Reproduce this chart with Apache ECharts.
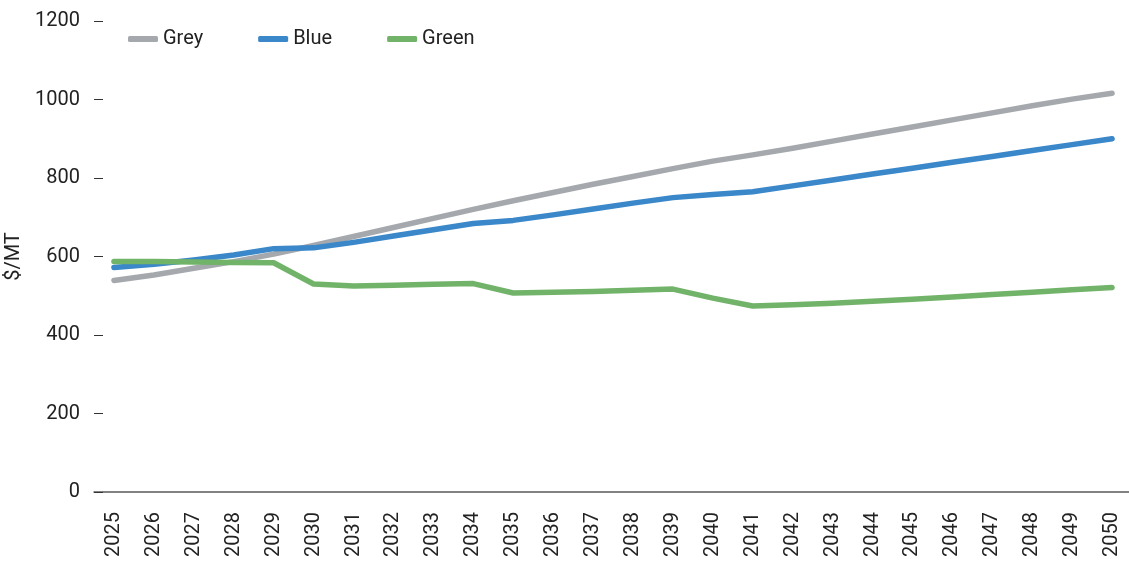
<!DOCTYPE html>
<html>
<head>
<meta charset="utf-8">
<script src="https://cdn.jsdelivr.net/npm/echarts@6/dist/echarts.min.js"></script>
<style>
  html, body { margin: 0; padding: 0; background: #fff; }
  #chart { width: 1129px; height: 564px; }
</style>
</head>
<body>
<div id="chart"></div>
<script>
// Price path by scenario, $/MT, 2025–2050
const years = ['2025','2026','2027','2028','2029','2030','2031','2032','2033','2034','2035','2036','2037',
               '2038','2039','2040','2041','2042','2043','2044','2045','2046','2047','2048','2049','2050'];
const grey  = [539, 553, 570, 587, 606, 628, 651, 674, 697, 720, 742, 763, 784,
               804, 824, 843, 859, 876, 894, 912, 930, 948, 966, 984, 1001, 1016];
const blue  = [572, 580, 591, 604, 620, 622, 636, 652, 668, 684, 692, 706, 721,
               736, 750, 758, 765, 780, 795, 810, 825, 840, 855, 870, 885, 900];
const green = [587, 587, 586, 585, 584, 530, 525, 527, 529, 531, 507, 509, 511,
               514, 517, 494, 474, 477, 481, 486, 491, 497, 503, 509, 515, 521];
const yTicks = { min: 0, max: 1200, step: 200 };

const FONT = 'Roboto';
const chart = echarts.init(document.getElementById('chart'), null, { renderer: 'canvas' });

function lineSeries(name, data, color) {
  return {
    name, type: 'line', data,
    symbol: 'none', smooth: false,
    lineStyle: { color, width: 5.5, cap: 'round', join: 'round' },
    itemStyle: { color },
    emphasis: { disabled: true }
  };
}

chart.setOption({
  animation: false,
  textStyle: { fontFamily: FONT },
  legend: {
    left: 128, top: 29, padding: 0,
    icon: 'roundRect',
    itemWidth: 30, itemHeight: 6, itemGap: 55,
    textStyle: { fontFamily: FONT, fontSize: 20, color: '#222' },
    data: ['Grey', 'Blue', 'Green']
  },
  grid: { left: 94, right: -3, top: 21, bottom: 72, containLabel: false, outerBoundsMode: 'none' },
  xAxis: {
    type: 'category',
    data: years,
    boundaryGap: true,
    axisLine: { show: true, lineStyle: { color: '#5a5a5a', width: 1.5 } },
    axisTick: { show: false },
    axisLabel: { rotate: 90, margin: 20, fontFamily: FONT, fontSize: 20, color: '#222', interval: 0 }
  },
  yAxis: {
    type: 'value',
    min: yTicks.min, max: yTicks.max, interval: yTicks.step,
    name: '$/MT',
    nameLocation: 'middle',
    nameGap: 64,
    nameRotate: 90,
    nameTextStyle: { fontFamily: FONT, fontSize: 20, color: '#222' },
    axisLine: { show: false },
    axisTick: { show: true, inside: true, length: 9, lineStyle: { color: '#333', width: 1 } },
    splitLine: { show: false },
    axisLabel: { margin: 14, fontFamily: FONT, fontSize: 20, color: '#222', formatter: v => String(v) }
  },
  series: [
    lineSeries('Grey', grey, '#a5a9ad'),
    lineSeries('Blue', blue, '#3a87c9'),
    lineSeries('Green', green, '#72b36a')
  ]
});
</script>
</body>
</html>
